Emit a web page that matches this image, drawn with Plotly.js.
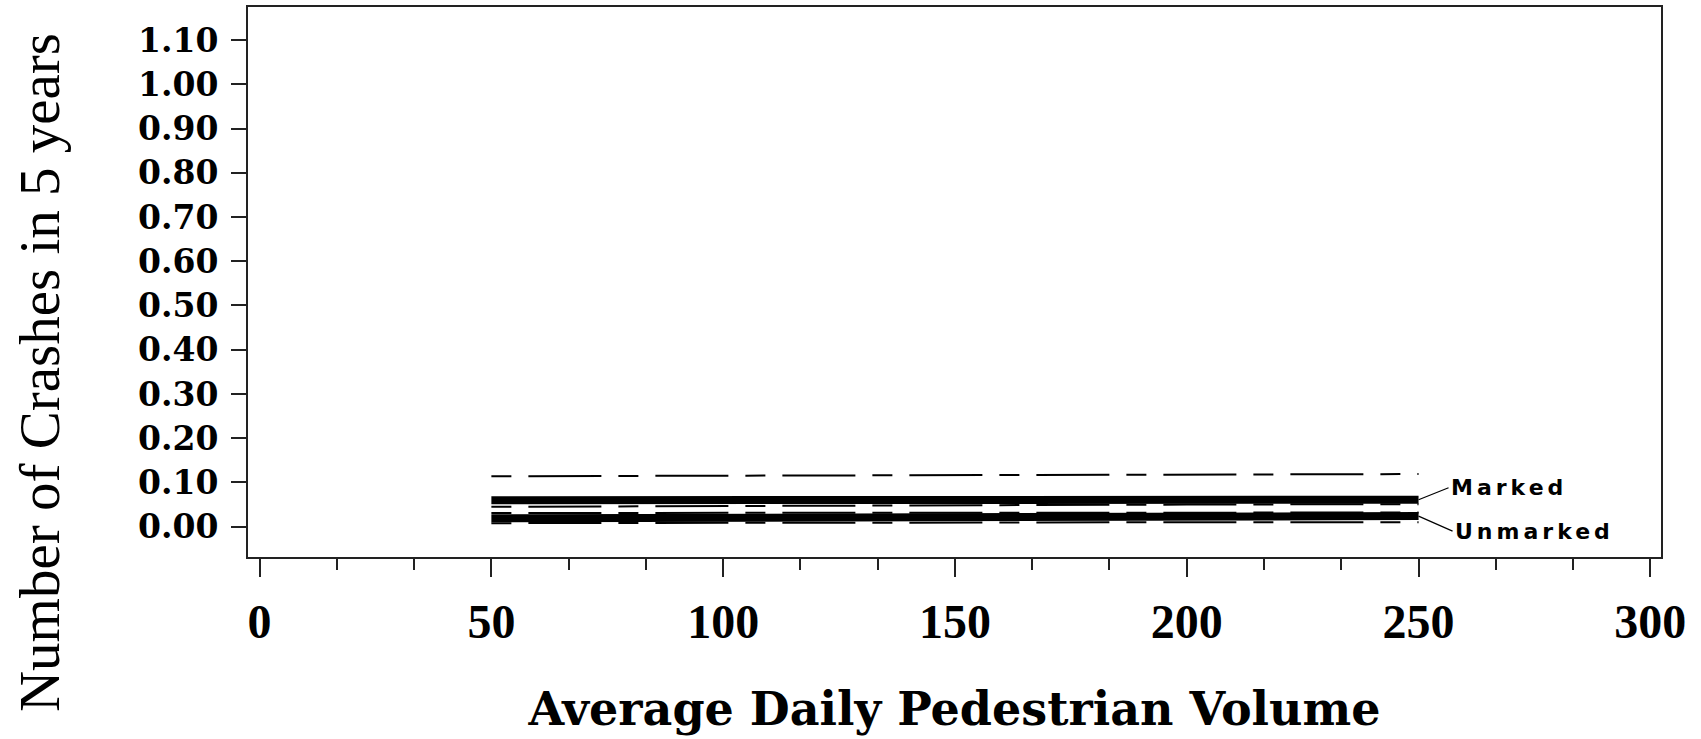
<!DOCTYPE html>
<html>
<head>
<meta charset="utf-8">
<script src="https://cdn.plot.ly/plotly-3.0.1.min.js"></script>
<style>
  html, body { margin: 0; padding: 0; background: #fff; }
  #chart { width: 1701px; height: 739px; }
  text.annotation-text[style*="DejaVu Sans"] { letter-spacing: 4px; }
</style>
</head>
<body>
<div id="chart"></div>
<script>
// Data
const xVals = [50, 100, 150, 200, 250];
const markedEst = [0.060, 0.060, 0.061, 0.061, 0.061];
const markedUpper = [0.114, 0.115, 0.117, 0.118, 0.119];
const markedLower = [0.031, 0.031, 0.032, 0.032, 0.032];
const unmarkedEst = [0.019, 0.020, 0.022, 0.023, 0.024];
const unmarkedUpper = [0.045, 0.047, 0.049, 0.050, 0.051];
const unmarkedLower = [0.008, 0.009, 0.009, 0.010, 0.010];

const seriesLabels = ["Marked", "Unmarked"];
const xTickVals = [0, 50, 100, 150, 200, 250, 300];
const yTickVals = [0, 0.1, 0.2, 0.3, 0.4, 0.5, 0.6, 0.7, 0.8, 0.9, 1.0, 1.1];
const yTickText = ["0.00", "0.10", "0.20", "0.30", "0.40", "0.50", "0.60", "0.70", "0.80", "0.90", "1.00", "1.10"];
const xTitle = "Average Daily Pedestrian Volume";
const yTitle = "Number of Crashes in 5 years";

const dashPattern = "20px,17px,73px,17px";
function dashed(y) {
  return { x: xVals, y: y, mode: "lines", line: { color: "#000", width: 2, dash: dashPattern }, hoverinfo: "skip" };
}
function solid(y) {
  return { x: xVals, y: y, mode: "lines", line: { color: "#000", width: 8 }, hoverinfo: "skip" };
}

const traces = [
  dashed(markedUpper), dashed(markedLower), dashed(unmarkedUpper), dashed(unmarkedLower),
  solid(markedEst), solid(unmarkedEst)
];

const last = xVals.length - 1;
const labelFont = { family: "DejaVu Sans", size: 22, color: "#000", weight: "bold" };
const layout = {
  width: 1701, height: 739,
  margin: { l: 248, r: 40, t: 7, b: 182 },
  paper_bgcolor: "#fff", plot_bgcolor: "#fff",
  showlegend: false,
  xaxis: {
    range: [-2.5, 302.3],
    tickvals: xTickVals,
    ticks: "outside", ticklen: 18, tickwidth: 2, tickcolor: "#222",
    minor: { dtick: 50 / 3, tick0: 0, ticks: "outside", ticklen: 11, tickwidth: 2, tickcolor: "#222" },
    showgrid: false, zeroline: false,
    showline: true, mirror: true, linewidth: 2, linecolor: "#222",
    tickfont: { family: "Liberation Serif", size: 48, color: "#000", weight: "bold" },
    ticklabelstandoff: 3,
    title: { text: xTitle, font: { family: "DejaVu Serif", size: 46, color: "#000", weight: "bold" }, standoff: 46 }
  },
  yaxis: {
    range: [-0.0685, 1.1747],
    tickvals: yTickVals, ticktext: yTickText,
    ticks: "outside", ticklen: 15, tickwidth: 2, tickcolor: "#222",
    showgrid: false, zeroline: false,
    showline: true, mirror: true, linewidth: 2, linecolor: "#222",
    tickfont: { family: "DejaVu Serif", size: 33, color: "#000", weight: "bold" },
    ticklabelstandoff: 6
  },
  annotations: [
    {
      x: xVals[last], y: markedEst[last], xref: "x", yref: "y",
      text: seriesLabels[0], showarrow: true, arrowhead: 0, arrowwidth: 1.2, arrowcolor: "#000",
      ax: 30, ay: -12, xanchor: "left", yanchor: "middle",
      font: labelFont
    },
    {
      x: xVals[last], y: unmarkedEst[last], xref: "x", yref: "y",
      text: seriesLabels[1], showarrow: true, arrowhead: 0, arrowwidth: 1.2, arrowcolor: "#000",
      ax: 34, ay: 15, xanchor: "left", yanchor: "middle",
      font: labelFont
    },
    {
      x: -0.148, y: 0.336, xref: "paper", yref: "paper",
      text: yTitle, textangle: -90, showarrow: false,
      xanchor: "center", yanchor: "middle",
      font: { family: "Liberation Serif", size: 57, color: "#000" }
    }
  ]
};

Plotly.newPlot("chart", traces, layout, { displayModeBar: false, staticPlot: true });
</script>
</body>
</html>
